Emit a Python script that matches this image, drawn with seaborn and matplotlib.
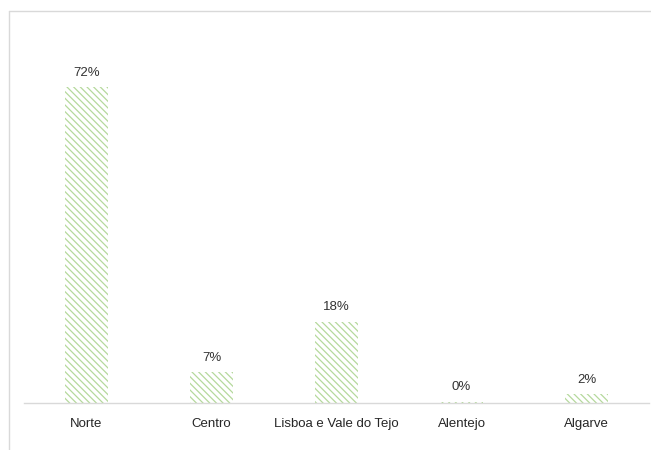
import matplotlib
matplotlib.use("Agg")
import matplotlib.pyplot as plt
import seaborn as sns
import pandas as pd
from matplotlib.lines import Line2D

regions = ["Norte", "Centro", "Lisboa e Vale do Tejo", "Alentejo", "Algarve"]
values = [72.0, 7.0, 18.5, 0.3, 2.0]
labels = ["72%", "7%", "18%", "0%", "2%"]

sns.set_theme(style="white")
plt.rcParams['font.family'] = ['Liberation Sans', 'DejaVu Sans']
plt.rcParams['hatch.color'] = '#b5d99c'
plt.rcParams['hatch.linewidth'] = 0.9

df = pd.DataFrame({"region": regions, "value": values})

W, H = 651, 450
fig = plt.figure(figsize=(W / 100, H / 100), dpi=100)
ax = fig.add_axes([24 / W, 47 / H, (649 - 24) / W, (403 - 52) / H])

sns.barplot(data=df, x="region", y="value", ax=ax, width=0.34,
            color="white", saturation=1)
for p in ax.patches:
    p.set_hatch('\\' * 5)
    p.set_edgecolor('#b5d99c')
    p.set_linewidth(0)
    p.set_facecolor('white')

ax.bar_label(ax.containers[0], labels=labels, padding=6, fontsize=9.5, color='#333333')

ax.set_ylim(0, 80)
ax.set_xlim(-0.5, 4.5)
ax.set_xlabel("")
ax.set_ylabel("")
ax.set_yticks([])
ax.tick_params(axis='x', length=0, pad=11, labelsize=9.5, labelcolor='#262626')
for s in ["left", "right", "top"]:
    ax.spines[s].set_visible(False)
ax.spines["bottom"].set_color('#d9d9d9')
ax.spines["bottom"].set_linewidth(1)

# outer chart-area border
fig.add_artist(Line2D([9 / W, 9 / W], [0, 1 - 11 / H], transform=fig.transFigure,
                      color='#d9d9d9', lw=1))
fig.add_artist(Line2D([9 / W, 1], [1 - 11 / H, 1 - 11 / H], transform=fig.transFigure,
                      color='#d9d9d9', lw=1))

fig.savefig("out.png", dpi=100, facecolor='white')
